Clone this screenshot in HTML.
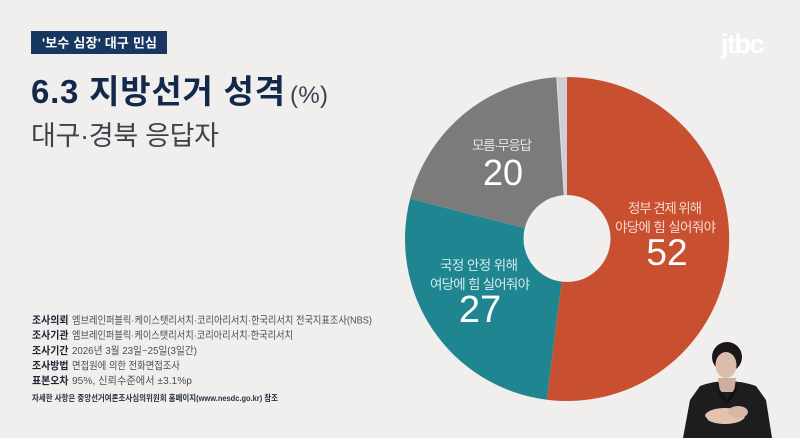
<!DOCTYPE html>
<html>
<head>
<meta charset="utf-8">
<style>
html,body{margin:0;padding:0;background:#f0efed;}
body{width:800px;height:438px;overflow:hidden;}
svg{display:block;}
.k{font-family:"Liberation Sans","Noto Sans CJK KR",sans-serif;}
</style>
</head>
<body>
<svg width="800" height="438" viewBox="0 0 800 438" xmlns="http://www.w3.org/2000/svg">
  <rect width="800" height="438" fill="#f0efed"/>

  <!-- badge -->
  <rect x="31" y="31" width="136" height="23" fill="#173660"/>
  <text x="42" y="47.5" class="k" font-size="13" font-weight="bold" fill="#ffffff" textLength="115" lengthAdjust="spacing">'보수 심장' 대구 민심</text>

  <!-- title -->
  <text x="31" y="103" class="k" font-size="33" font-weight="bold" fill="#12294c" textLength="254" lengthAdjust="spacing">6.3 지방선거 성격</text>
  <text x="290" y="103" class="k" font-size="24" fill="#3a4250" textLength="38" lengthAdjust="spacing">(%)</text>
  <text x="31" y="145" class="k" font-size="27" fill="#3d434c" textLength="188" lengthAdjust="spacing">대구·경북 응답자</text>

  <!-- jtbc logo -->
  <text x="721" y="53" font-family="Liberation Sans, sans-serif" font-size="27" font-weight="bold" fill="#ffffff" letter-spacing="-1.5">jtbc</text>

  <!-- donut -->
  <g>
    <path d="M567,239 L567,77 A162,162 0 1 1 546.7,399.7 Z" fill="#c84f2f"/>
    <path d="M567,239 L546.7,399.7 A162,162 0 0 1 410.1,198.7 Z" fill="#1f8590"/>
    <path d="M567,239 L410.1,198.7 A162,162 0 0 1 556.8,77.3 Z" fill="#7b7b7b"/>
    <path d="M567,239 L556.8,77.3 A162,162 0 0 1 567,77 Z" fill="#ccd0d4"/>
    <line x1="567" y1="239" x2="556.8" y2="77.3" stroke="#dfe1e3" stroke-width="1"/>
    <circle cx="567" cy="238.5" r="43.5" fill="#f0efed"/>
  </g>

  <!-- pie labels -->
  <text x="502" y="150" text-anchor="middle" class="k" font-size="13.5" fill="#e6e6e6" textLength="60" lengthAdjust="spacing">모름·무응답</text>
  <text x="503" y="185" text-anchor="middle" font-family="Liberation Sans, sans-serif" font-size="36" fill="#ffffff">20</text>

  <text x="665" y="213" text-anchor="middle" class="k" font-size="13.5" fill="#f6d9cd" textLength="74" lengthAdjust="spacing">정부 견제 위해</text>
  <text x="665.5" y="232" text-anchor="middle" class="k" font-size="13.5" fill="#f6d9cd" textLength="101" lengthAdjust="spacing">야당에 힘 실어줘야</text>
  <text x="667" y="265" text-anchor="middle" font-family="Liberation Sans, sans-serif" font-size="37" fill="#ffffff">52</text>

  <text x="479" y="270" text-anchor="middle" class="k" font-size="13.5" fill="#d3ecee" textLength="78" lengthAdjust="spacing">국정 안정 위해</text>
  <text x="480" y="289" text-anchor="middle" class="k" font-size="13.5" fill="#d3ecee" textLength="100" lengthAdjust="spacing">여당에 힘 실어줘야</text>
  <text x="480" y="322" text-anchor="middle" font-family="Liberation Sans, sans-serif" font-size="38" fill="#ffffff">27</text>

  <!-- survey info -->
  <g class="k" font-size="10.5">
    <text x="32" y="323.5" font-weight="bold" fill="#1b2433" textLength="36.5" lengthAdjust="spacingAndGlyphs">조사의뢰</text>
    <text x="72" y="323.5" fill="#4a4f57" textLength="300" lengthAdjust="spacingAndGlyphs">엠브레인퍼블릭·케이스탯리서치·코리아리서치·한국리서치 전국지표조사(NBS)</text>
    <text x="32" y="338.5" font-weight="bold" fill="#1b2433" textLength="36.5" lengthAdjust="spacingAndGlyphs">조사기관</text>
    <text x="72" y="338.5" fill="#4a4f57" textLength="221" lengthAdjust="spacingAndGlyphs">엠브레인퍼블릭·케이스탯리서치·코리아리서치·한국리서치</text>
    <text x="32" y="354" font-weight="bold" fill="#1b2433" textLength="36.5" lengthAdjust="spacingAndGlyphs">조사기간</text>
    <text x="72" y="354" fill="#4a4f57" textLength="125" lengthAdjust="spacingAndGlyphs">2026년 3월 23일~25일(3일간)</text>
    <text x="32" y="369" font-weight="bold" fill="#1b2433" textLength="36.5" lengthAdjust="spacingAndGlyphs">조사방법</text>
    <text x="72" y="369" fill="#4a4f57" textLength="108" lengthAdjust="spacingAndGlyphs">면접원에 의한 전화면접조사</text>
    <text x="32" y="384" font-weight="bold" fill="#1b2433" textLength="36.5" lengthAdjust="spacingAndGlyphs">표본오차</text>
    <text x="72" y="384" fill="#4a4f57" textLength="120" lengthAdjust="spacingAndGlyphs">95%, 신뢰수준에서 ±3.1%p</text>
  </g>
  <text x="32" y="401" class="k" font-size="8.5" font-weight="bold" fill="#2a3140" textLength="246" lengthAdjust="spacingAndGlyphs">자세한 사항은 중앙선거여론조사심의위원회 홈페이지(www.nesdc.go.kr) 참조</text>

  <!-- sign language interpreter -->
  <g>
    <path d="M700,386 Q727,376 756,386 L766,400 L772,438 L683,438 L690,400 Z" fill="#1d1d1f"/>
    <path d="M718,378 L736,378 L734,392 L720,392 Z" fill="#cfae9e"/>
    <path d="M716,384 L727,400 L738,384 L734,396 L727,404 L720,396 Z" fill="#111"/>
    <ellipse cx="727" cy="357" rx="15" ry="15" fill="#1a1716"/>
    <ellipse cx="726" cy="365" rx="10.5" ry="13" fill="#dcbcaa"/>
    <path d="M713,356 Q727,342 741,356 L741,352 Q727,338 713,352 Z" fill="#1a1716"/>
    <ellipse cx="725" cy="416" rx="20" ry="8" fill="#e3c3b0"/>
    <ellipse cx="738" cy="412" rx="10" ry="6" fill="#d8b6a2"/>
    <path d="M690,418 Q703,410 708,420 L700,430 Q690,428 690,418 Z" fill="#1d1d1f"/>
    <path d="M764,418 Q751,410 746,420 L754,430 Q764,428 764,418 Z" fill="#1d1d1f"/>
  </g>
</svg>
</body>
</html>
